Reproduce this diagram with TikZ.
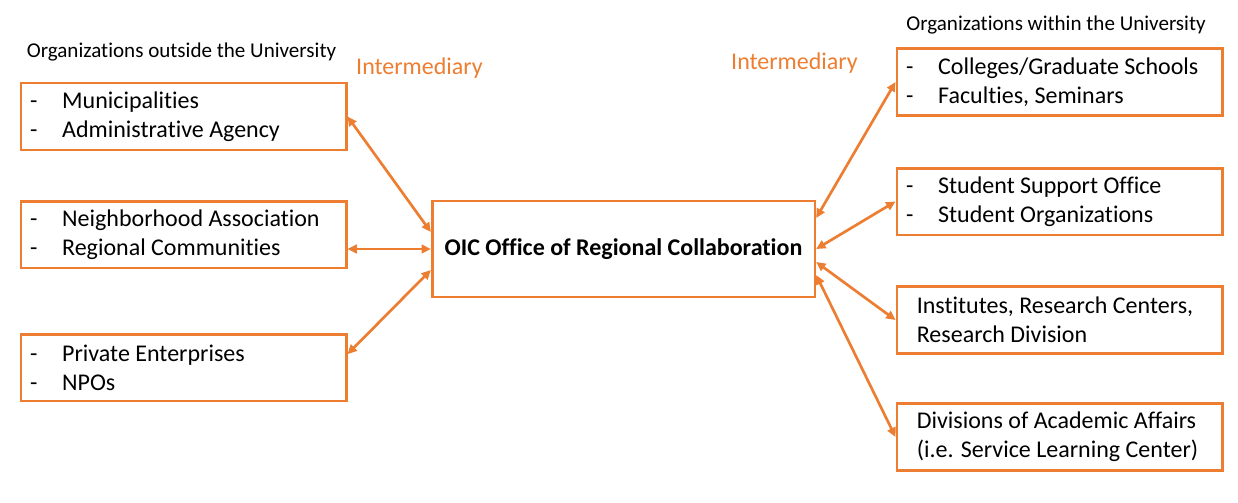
\documentclass[tikz,border=0pt]{standalone}
\usepackage{fontspec}
\setmainfont{Carlito}[Ligatures={NoCommon}]
\usetikzlibrary{arrows.meta}
\definecolor{oicorange}{HTML}{ED7D31}
\newcommand\itm{\makebox[24pt][l]{-}}

\begin{document}
\begin{tikzpicture}[x=0.75pt,y=-0.75pt,
  orgbox/.style={draw=oicorange,line width=2pt,minimum width=244pt,minimum height=50pt,
    text width=230pt,inner xsep=7pt,align=flush left,font=\fontsize{18}{21.75}\selectfont},
  orgplain/.style={orgbox,text width=214pt,inner xsep=15pt},
  oicbox/.style={draw=oicorange,line width=2pt,minimum width=287pt,minimum height=72pt,
    font=\fontsize{18}{21.75}\selectfont\bfseries},
  header/.style={font=\fontsize{15.8}{18}\selectfont},
  interm/.style={text=oicorange,font=\fontsize{18}{21.75}\selectfont},
  link/.style={draw=oicorange,line width=2pt,{Triangle[length=7pt,width=6.5pt]}-{Triangle[length=7pt,width=6.5pt]}}]
\useasboundingbox (0,0) rectangle (1238,503);

% outside the university
\node[header] (outhead) at (181.5,52) {Organizations outside the University};
\node[orgbox] (muni) at (183.5,116.5) {\itm Municipalities\\\itm Administrative Agency};
\node[orgbox] (neigh) at (183.5,234.5) {\itm Neighborhood Association\\\itm Regional Communities};
\node[orgbox] (priv) at (183.5,367.5) {\itm Private Enterprises\\\itm NPOs};

% the office
\node[oicbox] (oic) at (623.5,249) {OIC Office of Regional Collaboration};
\node[interm] (intl) at (419.5,68) {Intermediary};
\node[interm] (intr) at (794.5,63) {Intermediary};

% within the university
\node[header] (inhead) at (1056,25) {Organizations within the University};
\node[orgbox] (coll) at (1059.5,82) {\itm Colleges/Graduate Schools\\\itm Faculties, Seminars};
\node[orgbox] (stud) at (1059.5,201.5) {\itm Student Support Office\\\itm Student Organizations};
\node[orgplain] (inst) at (1059.5,320) {Institutes, Research Centers,\\Research Division};
\node[orgplain] (acad) at (1059.5,437) {Divisions of Academic Affairs\\(i.e. Service Learning Center)};

\draw[link] (muni.east) -- ([yshift=12.75pt]oic.west);
\draw[link] (oic.west -| neigh.east) -- (oic.west);
\draw[link] ([yshift=10pt]priv.east) -- ([yshift=-15.75pt]oic.west);
\draw[link] ([yshift=23.25pt]oic.east) -- (coll.west);
\draw[link] (oic.east) -- (stud.west);
\draw[link] ([yshift=-9.75pt]oic.east) -- (inst.west);
\draw[link] ([yshift=-19.5pt]oic.east) -- (acad.west);
\end{tikzpicture}
\end{document}
